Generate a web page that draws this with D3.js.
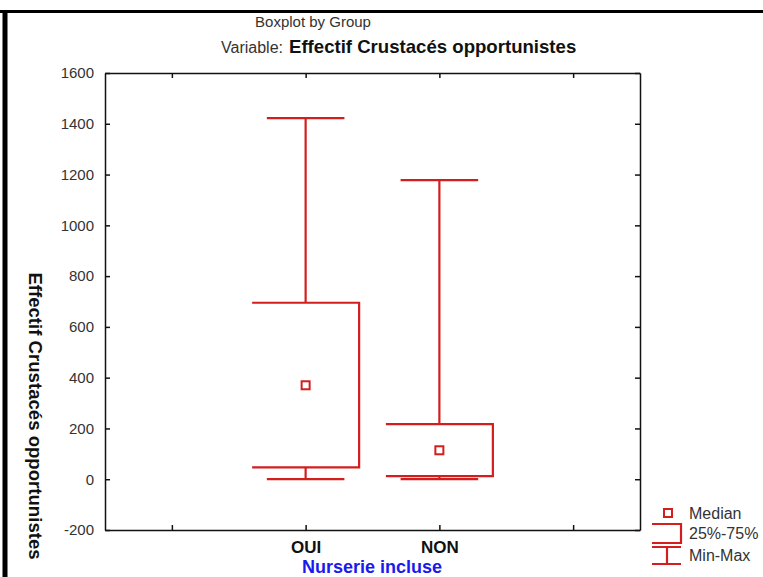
<html>
<head>
<meta charset="utf-8">
<title>Boxplot by Group</title>
<script src="https://cdn.jsdelivr.net/npm/d3@7"></script>
<style>
  body { margin: 0; background: #fff; }
  text { font-family: "Liberation Sans", Arial, sans-serif; }
</style>
</head>
<body>
<script>
// data
var slots = ["", "OUI", "NON", " "];   // statistica puts empty slots on each side
var groups = ["OUI", "NON"];
var mins = [0, 0];
var q1s = [47, 12];
var medians = [370, 114];
var q3s = [695, 217];
var maxs = [1422, 1178];
var yTicks = [-200, 0, 200, 400, 600, 800, 1000, 1200, 1400, 1600];

var W = 763, H = 577;
var pLeft = 105, pRight = 640, pTop = 73, pBottom = 530;
var red = "#d41e1e";
var font = "Liberation Sans, Arial, sans-serif";

var svg = d3.select("body").append("svg")
    .attr("width", W).attr("height", H);

// outer border of the original page
svg.append("line").attr("x1", 0).attr("x2", W).attr("y1", 11.5).attr("y2", 11.5)
    .attr("stroke", "#000").attr("stroke-width", 3);
svg.append("line").attr("x1", 5).attr("x2", 5).attr("y1", 10).attr("y2", H)
    .attr("stroke", "#000").attr("stroke-width", 5);

var x = d3.scalePoint().domain(slots).range([pLeft, pRight]).padding(0.5);
var y = d3.scaleLinear().domain([-200, 1600]).range([pBottom, pTop]);
var step = x.step();

// axes (ticks point inward)
var gl = svg.append("g").attr("transform", "translate(" + pLeft + ",0)")
    .call(d3.axisLeft(y).tickValues(yTicks).tickSize(-5).tickPadding(11).tickSizeOuter(0)
        .tickFormat(function(d) { return String(d); }));
var gr = svg.append("g").attr("transform", "translate(" + pRight + ",0)")
    .call(d3.axisRight(y).tickValues(yTicks).tickSize(-5).tickSizeOuter(0).tickFormat(""));
var gt = svg.append("g").attr("transform", "translate(0," + pTop + ")")
    .call(d3.axisTop(x).tickSize(-5).tickSizeOuter(0).tickFormat(""));
var gb = svg.append("g").attr("transform", "translate(0," + pBottom + ")")
    .call(d3.axisBottom(x).tickSize(-5).tickPadding(11).tickSizeOuter(0));

svg.selectAll(".domain").attr("stroke", "#111").attr("stroke-width", 1.5);
svg.selectAll(".tick line").attr("stroke", "#111").attr("stroke-width", 1.5);
gl.selectAll("text").attr("font-size", 15).attr("fill", "#333").style("font-family", font);
gb.selectAll("text").attr("font-size", 17).attr("font-weight", "bold").attr("fill", "#111")
    .style("font-family", font);

// boxes
var boxHalf = step * 0.4, capHalf = step * 0.29;
var boxes = svg.append("g").attr("fill", "none").attr("stroke", red).attr("stroke-width", 2.2);

groups.forEach(function(g, i) {
    var cx = x(g);
    // upper whisker + cap
    boxes.append("line").attr("x1", cx).attr("x2", cx).attr("y1", y(q3s[i])).attr("y2", y(maxs[i]));
    boxes.append("line").attr("x1", cx - capHalf).attr("x2", cx + capHalf).attr("y1", y(maxs[i])).attr("y2", y(maxs[i]));
    // lower whisker + cap
    boxes.append("line").attr("x1", cx).attr("x2", cx).attr("y1", y(q1s[i])).attr("y2", y(mins[i]));
    boxes.append("line").attr("x1", cx - capHalf).attr("x2", cx + capHalf).attr("y1", y(mins[i])).attr("y2", y(mins[i]));
    // box: top, right side, bottom (left side open)
    boxes.append("path").attr("d",
        "M" + (cx - boxHalf) + "," + y(q3s[i]) +
        "H" + (cx + boxHalf) + "V" + y(q1s[i]) + "H" + (cx - boxHalf));
    // median square
    boxes.append("rect").attr("x", cx - 4).attr("y", y(medians[i]) - 4)
        .attr("width", 8).attr("height", 8).attr("fill", "#fff").attr("stroke-width", 2);
});

// titles
svg.append("text").attr("x", 313).attr("y", 27).attr("text-anchor", "middle")
    .attr("font-size", 15).attr("fill", "#333").text("Boxplot by Group");
svg.append("text").attr("x", 283).attr("y", 53).attr("text-anchor", "end")
    .attr("font-size", 16).attr("fill", "#333").text("Variable:");
svg.append("text").attr("x", 289).attr("y", 53)
    .attr("font-size", 18.6).attr("font-weight", "bold").attr("fill", "#111")
    .text("Effectif Crustacés opportunistes");

svg.append("text").attr("transform", "translate(29,416) rotate(90)")
    .attr("text-anchor", "middle").attr("font-size", 18.6).attr("font-weight", "bold").attr("fill", "#111")
    .text("Effectif Crustacés opportunistes");

svg.append("text").attr("x", 372).attr("y", 573).attr("text-anchor", "middle")
    .attr("font-size", 18).attr("font-weight", "bold").attr("fill", "#1a1aee")
    .text("Nurserie incluse");

// legend
var lg = svg.append("g").attr("fill", "none").attr("stroke", red).attr("stroke-width", 2.2);
lg.append("rect").attr("x", 664).attr("y", 509).attr("width", 8).attr("height", 8)
    .attr("stroke-width", 2).attr("fill", "#fff");
lg.append("path").attr("d", "M652,524H681V543H652");
lg.append("path").attr("d", "M652,547H681M667,547V564M652,564H681");
var lt = svg.append("g").attr("font-size", 16).attr("fill", "#333");
lt.append("text").attr("x", 689).attr("y", 519).text("Median");
lt.append("text").attr("x", 689).attr("y", 539).text("25%-75%");
lt.append("text").attr("x", 689).attr("y", 561).text("Min-Max");
</script>
</body>
</html>
